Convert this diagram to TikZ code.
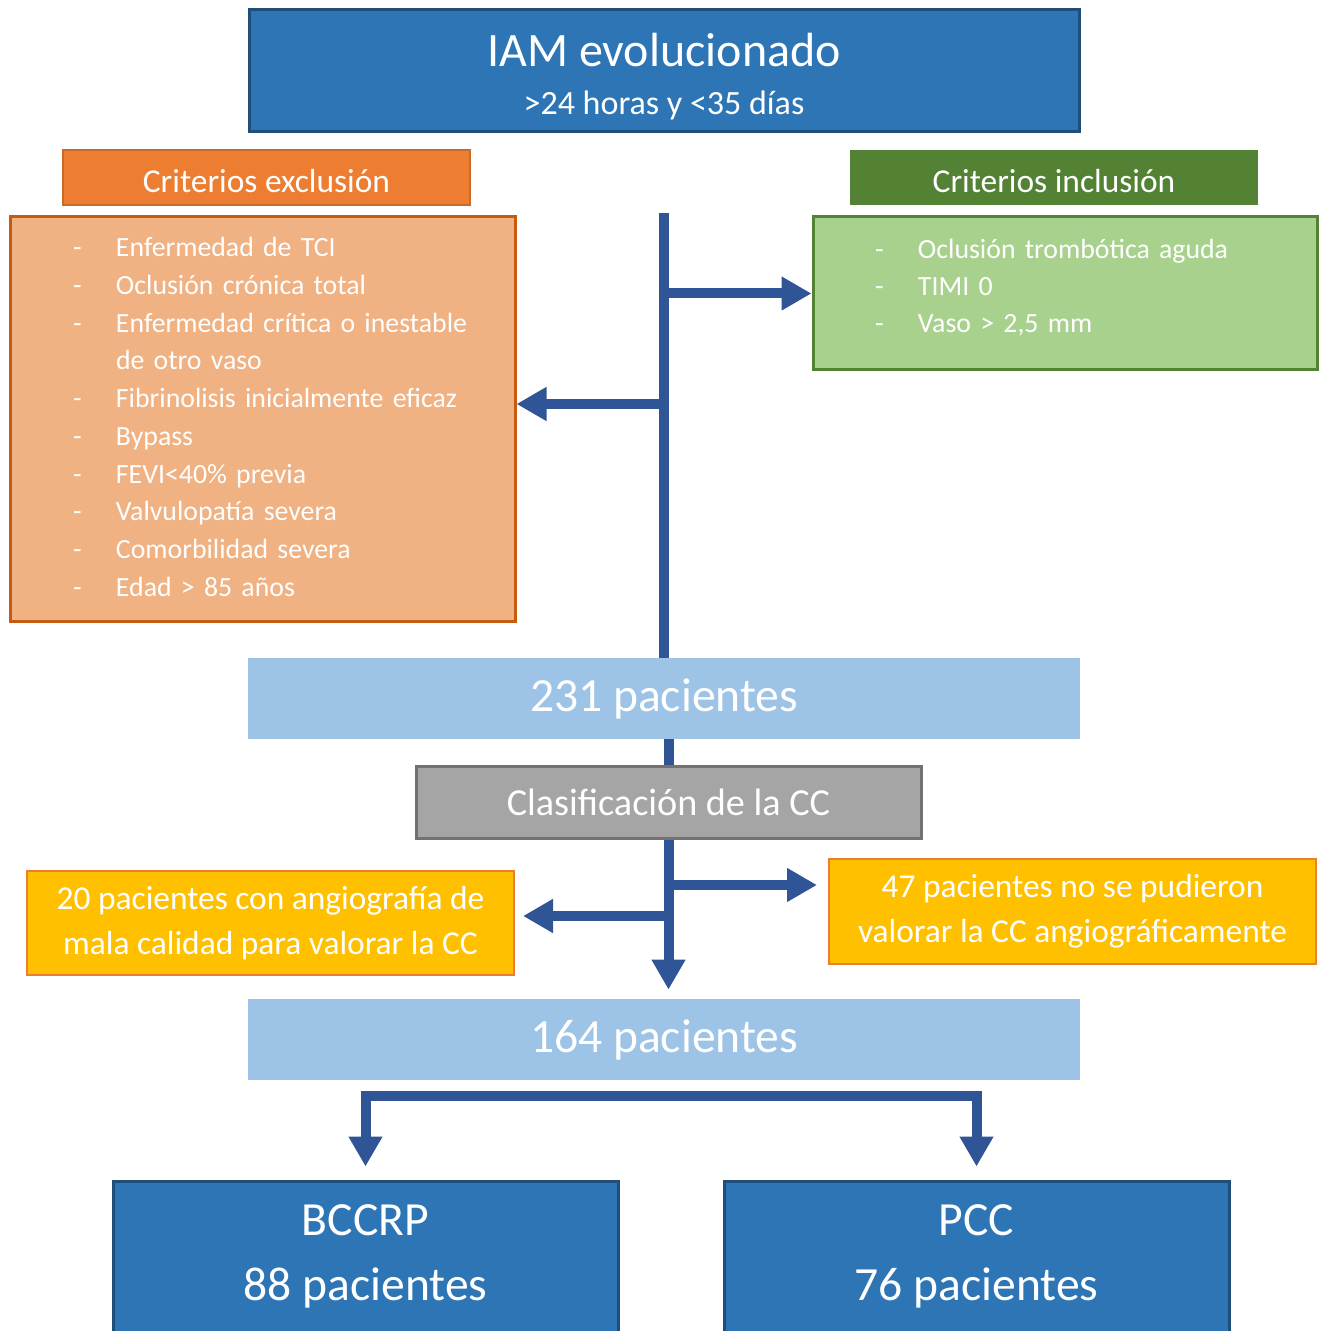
\documentclass[tikz,border=0pt]{standalone}
\usepackage{fontspec}
\setmainfont{Carlito}
\usepackage{xcolor}
\usepackage{tikz}
\usetikzlibrary{arrows.meta, positioning, calc}
\definecolor{iamblue}{HTML}{2E75B6}
\definecolor{iamline}{HTML}{1F4E79}
\definecolor{flowblue}{HTML}{2F5597}
\definecolor{pacblue}{HTML}{9DC3E6}
\definecolor{exclorange}{HTML}{ED7D31}
\definecolor{exclline}{HTML}{C55A11}
\definecolor{excllight}{HTML}{F0B183}
\definecolor{inclgreen}{HTML}{548235}
\definecolor{incllight}{HTML}{A9D18E}
\definecolor{clasgray}{HTML}{A5A5A5}
\definecolor{clasline}{HTML}{767171}
\definecolor{lostyellow}{HTML}{FFC000}

\begin{document}
\begin{tikzpicture}[x=0.5pt, y=-0.5pt,
    box/.style={rectangle, inner sep=0pt, text=white, align=center},
    listbox/.style={box, align=left, inner ysep=0pt},
    flow/.style={draw=flowblue, line width=5pt},
    flowarrow/.style={flow, -{Triangle[length=15pt, width=16pt]}}]
    \useasboundingbox (0,0) rectangle (1325,1331);
    \clip (0,0) rectangle (1325,1331);

    % Top box
    \node[box, fill=iamblue, draw=iamline, line width=1.5pt,
        minimum width=415pt, minimum height=61pt,
        font=\fontsize{17}{24}\selectfont] (iam) at (664,71)
        {{\fontsize{24}{24}\selectfont\rule{0pt}{22pt}IAM evolucionado}\\>24 horas y <35 días};

    % Criteria headers
    \node[box, fill=exclorange, draw=exclorange!85!black, line width=1pt,
        minimum width=203.5pt, minimum height=27.5pt,
        font=\fontsize{16.7}{20}\selectfont] (exclhead) at (266.5,177.5) {\rule{0pt}{15.5pt}Criterios exclusión};
    \node[box, fill=inclgreen, minimum width=204pt, minimum height=27.5pt,
        font=\fontsize{16.7}{20}\selectfont] (inclhead) at (1054,177.5) {\rule{0pt}{15.5pt}Criterios inclusión};

    % Criteria lists
    \node[listbox, fill=excllight, draw=exclline, line width=1.5pt,
        font=\fontsize{13.9}{18.85}\selectfont,
        inner xsep=31.5pt, text width=189.5pt, minimum height=202pt] (excl) at (262.5,419)
        {\begin{tabular}{@{}p{21.5pt}@{}l@{}}
        - & Enfermedad de TCI\\
        - & Oclusión crónica total\\
        - & Enfermedad crítica o inestable\\
          & de otro vaso\\
        - & Fibrinolisis inicialmente eficaz\\
        - & Bypass\\
        - & FEVI<40\% previa\\
        - & Valvulopatía severa\\
        - & Comorbilidad severa\\
        - & Edad > 85 años
        \end{tabular}};
    \node[listbox, fill=incllight, draw=inclgreen, line width=1.5pt,
        font=\fontsize{13.9}{18.5}\selectfont,
        inner xsep=31pt, text width=190pt, minimum height=76.5pt] (incl) at (1065,293.5)
        {\begin{tabular}{@{}p{21.5pt}@{}l@{}}
        - & Oclusión trombótica aguda\\
        - & TIMI 0\\
        - & Vaso > 2,5 mm\\[5.5pt]
        \end{tabular}};

    % Patients
    \node[box, fill=pacblue, minimum width=416pt, minimum height=40.5pt,
        font=\fontsize{23.8}{28}\selectfont] (p231) at (664,698.5) {231 pacientes};
    \node[box, fill=clasgray, draw=clasline, line width=1.5pt,
        minimum width=252.5pt, minimum height=36pt,
        font=\fontsize{19.1}{24}\selectfont] (clas) at (668.5,802) {Clasificación de la CC};
    \node[box, fill=lostyellow, draw=exclorange, line width=1pt,
        minimum width=243.5pt, minimum height=52pt,
        font=\fontsize{16.7}{22.5}\selectfont] (mala) at (270.5,923)
        {20 pacientes con angiografía de\\mala calidad para valorar la CC};
    \node[box, fill=lostyellow, draw=exclorange, line width=1pt,
        minimum width=243.5pt, minimum height=52.5pt,
        font=\fontsize{16.7}{22.5}\selectfont] (novalor) at (1072.5,911.5)
        {47 pacientes no se pudieron\\valorar la CC angiográficamente};
    \node[box, fill=pacblue, minimum width=416pt, minimum height=40.5pt,
        font=\fontsize{23.8}{28}\selectfont] (p164) at (664,1039.5) {164 pacientes};

    % Groups
    \node[box, fill=iamblue, draw=iamline, line width=1.5pt,
        minimum width=252.5pt, minimum height=82pt,
        font=\fontsize{23.8}{32.5}\selectfont] (bccrp) at (365.5,1263)
        {BCCRP\\88 pacientes\rule[-10pt]{0pt}{10pt}};
    \node[box, fill=iamblue, draw=iamline, line width=1.5pt,
        minimum width=252.5pt, minimum height=82pt,
        font=\fontsize{23.8}{32.5}\selectfont] (pcc) at (976.5,1263)
        {PCC\\76 pacientes\rule[-10pt]{0pt}{10pt}};

    % Arrows
    \coordinate (trunk) at (664,213);
    \coordinate (exclin) at ($(excl.east)+(0,-15)$);
    \coordinate (malain) at ($(mala.east)+(8,-7)$);
    \coordinate (novalorin) at ($(novalor.west)+(-11,-26.5)$);
    \coordinate (split) at ($(p164.south)+(0,16)$);

    \draw[flow] (trunk) -- (trunk |- p231.north);
    \draw[flowarrow] (trunk |- incl.west) -- (incl.west);
    \draw[flowarrow] (trunk |- exclin) -- (exclin);
    \draw[flow] (clas.north |- p231.south) -- (clas.north);
    \draw[flowarrow, shorten >=4.5pt] (clas.south) -- (clas.south |- p164.north);
    \draw[flowarrow] (clas.south |- novalorin) -- (novalorin);
    \draw[flowarrow] (clas.south |- malain) -- (malain);
    \draw[flowarrow, shorten >=6.5pt] (split) -| (bccrp.north);
    \draw[flowarrow, shorten >=6.5pt] (split) -| (pcc.north);

\end{tikzpicture}
\end{document}
